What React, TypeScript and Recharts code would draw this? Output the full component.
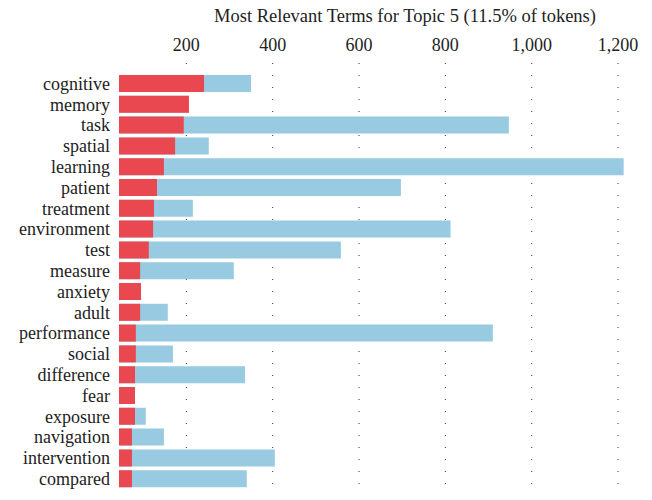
import { BarChart, Bar, XAxis, YAxis, CartesianGrid } from "recharts";

const terms = [
  "cognitive", "memory", "task", "spatial", "learning", "patient", "treatment",
  "environment", "test", "measure", "anxiety", "adult", "performance", "social",
  "difference", "fear", "exposure", "navigation", "intervention", "compared",
];
// overall term frequency (blue)
const overall = [350, 206, 947, 252, 1213, 697, 215, 812, 558, 310, 95, 157, 910, 169, 336, 81, 106, 148, 405, 340];
// estimated frequency within topic (red)
const inTopic = [241, 206, 194, 174, 148, 132, 125, 123, 113, 93, 95, 93, 83, 83, 81, 81, 81, 74, 74, 74];
const xTicks = [200, 400, 600, 800, 1000, 1200];

const data = terms.map((term, i) => ({ term, overall: overall[i], topic: inTopic[i] }));

const FONT = "'Liberation Serif', 'DejaVu Serif', serif";

export default function App() {
  return (
    <div style={{ position: "absolute", left: 0, top: 0, width: 652, height: 500, background: "#fff" }}>
      <BarChart
        width={652}
        height={500}
        data={data}
        layout="vertical"
        margin={{ top: 33, right: 21, bottom: 11, left: 0 }}
        barSize={17}
        barGap={-17}
      >
        <text x={405} y={22} textAnchor="middle" fontFamily={FONT} fontSize={18.5} fill="#222">
          Most Relevant Terms for Topic 5 (11.5% of tokens)
        </text>
        <CartesianGrid horizontal={false} syncWithTicks strokeDasharray="1 11" stroke="#333" />
        <XAxis
          type="number"
          orientation="top"
          domain={[44, 1230]}
          ticks={xTicks}
          tickFormatter={(v: number) => v.toLocaleString("en-US")}
          axisLine={false}
          tickLine={false}
          tickSize={0}
          tickMargin={12}
          height={30}
          tick={{ fontSize: 18, fill: "#222", fontFamily: FONT }}
        />
        <YAxis
          type="category"
          dataKey="term"
          width={119}
          padding={{ top: 10, bottom: 0 }}
          axisLine={false}
          tickLine={false}
          tickSize={0}
          tickMargin={9}
          interval={0}
          tick={{ fontSize: 18, fill: "#222", fontFamily: FONT }}
        />
        <Bar dataKey="overall" fill="#98CAE1" isAnimationActive={false} />
        <Bar dataKey="topic" fill="#EA4850" isAnimationActive={false} />
      </BarChart>
    </div>
  );
}
